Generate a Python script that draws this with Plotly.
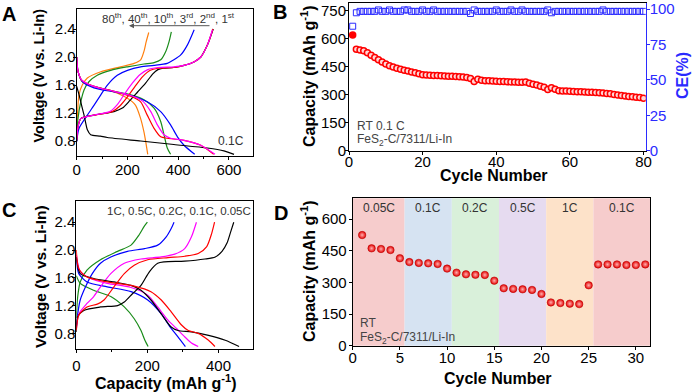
import plotly.graph_objects as go

# ---------------- Panel A data: voltage profiles at 0.1C ----------------
a1_dis_q = [0, 10, 20, 29, 36, 42, 55, 93, 121, 252, 383, 515, 580, 620]
a1_dis_v = [1.58, 1.45, 1.30, 1.17, 1.05, 0.96, 0.89, 0.87, 0.85, 0.80, 0.75, 0.70, 0.66, 0.61]
a1_chg_q = [0, 5, 16, 68, 147, 180, 210, 240, 270, 300, 320, 340, 383, 423, 462, 489, 515, 538]
a1_chg_v = [0.80, 1.00, 1.12, 1.17, 1.22, 1.27, 1.38, 1.50, 1.62, 1.76, 1.82, 1.84, 1.85, 1.88, 1.93, 2.00, 2.17, 2.40]

a2_dis_q = [0, 5, 20, 68, 147, 213, 252, 278, 305, 331, 357, 423, 489, 540]
a2_dis_v = [2.00, 1.80, 1.67, 1.58, 1.51, 1.44, 1.36, 1.17, 0.98, 0.86, 0.84, 0.81, 0.74, 0.61]
a2_chg_q = [0, 5, 16, 68, 140, 170, 200, 230, 260, 290, 320, 383, 423, 462, 489, 515, 537]
a2_chg_v = [0.82, 1.00, 1.12, 1.17, 1.22, 1.30, 1.43, 1.58, 1.72, 1.81, 1.84, 1.85, 1.88, 1.93, 2.00, 2.17, 2.40]

a3_dis_q = [0, 5, 20, 68, 147, 213, 260, 292, 318, 344, 370, 423, 489, 545]
a3_dis_v = [2.00, 1.80, 1.67, 1.58, 1.51, 1.45, 1.37, 1.22, 1.03, 0.89, 0.84, 0.81, 0.74, 0.61]
a3_chg_q = [0, 5, 16, 68, 130, 160, 190, 220, 250, 280, 320, 383, 423, 462, 489, 515, 535]
a3_chg_v = [0.82, 1.00, 1.12, 1.17, 1.22, 1.32, 1.48, 1.63, 1.75, 1.82, 1.85, 1.86, 1.88, 1.93, 2.00, 2.17, 2.39]

a10_dis_q = [0, 5, 22, 68, 147, 213, 278, 331, 370, 397, 423, 465]
a10_dis_v = [2.00, 1.80, 1.65, 1.56, 1.50, 1.45, 1.36, 1.22, 1.03, 0.86, 0.74, 0.61]
a10_chg_q = [0, 9, 42, 68, 95, 121, 160, 200, 252, 305, 357, 383, 410, 436, 463]
a10_chg_v = [0.79, 0.98, 1.17, 1.31, 1.46, 1.60, 1.74, 1.81, 1.86, 1.88, 1.91, 1.96, 2.03, 2.17, 2.39]

a40_dis_q = [0, 5, 22, 68, 147, 213, 265, 305, 331, 344, 357, 370]
a40_dis_v = [2.00, 1.80, 1.65, 1.58, 1.51, 1.46, 1.39, 1.27, 1.08, 0.89, 0.70, 0.61]
a40_chg_q = [0, 5, 16, 29, 49, 81, 134, 200, 265, 305, 331, 351, 364, 373]
a40_chg_v = [0.84, 1.12, 1.36, 1.53, 1.65, 1.74, 1.81, 1.86, 1.90, 1.92, 1.96, 2.08, 2.22, 2.36]

a80_dis_q = [0, 5, 22, 68, 147, 200, 232, 252, 265, 272, 280]
a80_dis_v = [2.00, 1.80, 1.65, 1.58, 1.50, 1.41, 1.31, 1.12, 0.93, 0.79, 0.61]
a80_chg_q = [0, 3, 9, 22, 42, 95, 173, 226, 252, 265, 274, 284]
a80_chg_v = [0.80, 1.17, 1.46, 1.60, 1.70, 1.79, 1.86, 1.91, 1.96, 2.08, 2.22, 2.35]

# ---------------- Panel B data: cycling at 0.1C ----------------
b_cycles = list(range(1, 81))
b_capacity = [621, 544, 541, 537, 525, 512, 500, 488, 476, 465,
              456, 449, 443, 437, 432, 428, 423, 418, 413, 408,
              406, 405, 404, 403, 402, 401, 400, 399, 398, 397,
              396, 393, 388, 372, 383, 378, 376, 375, 374, 373,
              372, 371, 370, 369, 368, 367, 367, 368, 362, 357,
              352, 346, 340, 328, 338, 330, 322, 321, 320, 319,
              318, 317, 316, 315, 314, 313, 312, 311, 309, 307,
              305, 302, 299, 296, 293, 291, 289, 287, 285, 282]
b_ce = [88, 97.5, 98.5, 98.5, 98.5, 98.5, 98.5, 99.5, 98.5, 98.5,
        99.5, 98.5, 98.5, 98.5, 99.5, 99.5, 98.5, 98.5, 98.5, 99.5,
        98.5, 98.5, 99.5, 98.5, 98.5, 98.5, 98.5, 98.5, 98.5, 98.5,
        98.5, 98.5, 97.0, 99.5, 98.5, 98.5, 98.5, 98.5, 98.5, 99.5,
        98.5, 98.5, 98.5, 99.5, 98.5, 98.5, 99.5, 98.5, 98.5, 98.5,
        98.5, 98.5, 98.5, 99.5, 97.5, 98.5, 98.5, 98.5, 98.5, 98.5,
        98.5, 98.5, 98.5, 98.5, 98.5, 98.5, 98.5, 98.5, 99.5, 98.5,
        98.5, 98.5, 98.5, 98.5, 98.5, 98.5, 98.5, 98.5, 98.5, 98.5]

# ---------------- Panel C data: rate voltage profiles ----------------
c005_dis_q = [0, 11, 49, 106, 154, 182, 210, 239, 267, 286, 324, 372, 419, 458]
c005_dis_v = [1.90, 1.66, 1.59, 1.54, 1.49, 1.42, 1.28, 1.08, 0.89, 0.84, 0.82, 0.77, 0.70, 0.61]
c005_chg_q = [0, 4, 21, 68, 116, 135, 158, 182, 206, 229, 248, 305, 362, 391, 410, 424, 433, 443]
c005_chg_v = [0.82, 1.04, 1.13, 1.18, 1.20, 1.25, 1.37, 1.49, 1.69, 1.81, 1.83, 1.84, 1.87, 1.90, 1.98, 2.10, 2.24, 2.40]

c01_dis_q = [0, 7, 30, 87, 163, 210, 239, 267, 296, 315, 343, 372, 390]
c01_dis_v = [2.00, 1.73, 1.61, 1.54, 1.48, 1.40, 1.28, 1.11, 0.92, 0.84, 0.80, 0.70, 0.61]
c01_chg_q = [0, 7, 30, 59, 78, 106, 135, 163, 201, 258, 305, 343, 367, 381, 389]
c01_chg_v = [0.84, 1.06, 1.18, 1.22, 1.28, 1.47, 1.66, 1.78, 1.86, 1.89, 1.91, 1.95, 2.05, 2.24, 2.40]

c02_dis_q = [0, 11, 40, 87, 154, 201, 229, 258, 282, 305, 324, 343]
c02_dis_v = [1.93, 1.69, 1.59, 1.52, 1.46, 1.35, 1.18, 0.99, 0.87, 0.75, 0.66, 0.61]
c02_chg_q = [0, 7, 30, 49, 68, 97, 135, 182, 239, 277, 305, 324, 338]
c02_chg_v = [0.86, 1.08, 1.23, 1.33, 1.47, 1.66, 1.81, 1.87, 1.90, 1.94, 2.02, 2.19, 2.40]

c05_dis_q = [0, 7, 30, 87, 154, 201, 239, 267, 286, 307]
c05_dis_v = [1.88, 1.66, 1.54, 1.47, 1.40, 1.28, 1.08, 0.87, 0.75, 0.61]
c05_chg_q = [0, 4, 11, 26, 45, 68, 97, 144, 192, 229, 253, 267, 275]
c05_chg_v = [0.88, 1.08, 1.28, 1.47, 1.66, 1.81, 1.90, 1.98, 2.02, 2.07, 2.19, 2.31, 2.40]

c1_dis_q = [0, 11, 49, 97, 135, 163, 182, 193, 202]
c1_dis_v = [1.63, 1.52, 1.42, 1.33, 1.18, 1.01, 0.84, 0.70, 0.61]
c1_chg_q = [0, 4, 11, 30, 68, 116, 154, 177, 191, 200]
c1_chg_v = [1.02, 1.33, 1.54, 1.71, 1.86, 1.98, 2.07, 2.22, 2.34, 2.40]

# ---------------- Panel D data: rate capability ----------------
d_cycles = list(range(1, 32))
d_capacity = [524, 461, 458, 453, 414, 396, 392, 390, 387, 365,
              346, 338, 336, 335, 308, 272, 269, 267, 264, 245,
              205, 202, 199, 197, 286, 385, 385, 385, 382, 382, 385]
d_band_labels = ["0.05C", "0.1C", "0.2C", "0.5C", "1C", "0.1C"]
d_band_edges = [0, 5.5, 10.5, 15.5, 20.5, 25.5, 31.5]
d_band_colors = ["#f6cccc", "#d6e3f2", "#d9f0da", "#e6dbf0", "#fde2c9", "#f6cccc"]

a_labels_text = "80<sup>th</sup>, 40<sup>th</sup>, 10<sup>th</sup>, 3<sup>rd</sup>, 2<sup>nd</sup>, 1<sup>st</sup>"
c_labels_text = "1C, 0.5C, 0.2C, 0.1C, 0.05C"

W, H = 692, 392
FONT = "Liberation Sans, Arial, sans-serif"


def px(x):
    return x / W


def py(y):
    return 1 - y / H


fig = go.Figure()

BLACK, RED, MAG, BLUE, GREEN, ORANGE = "#000000", "#ff0000", "#ff00ff", "#0000ff", "#1a8c1a", "#ff7f0e"
LW = 1.2


def curve(q, v, color, xa, ya):
    fig.add_trace(go.Scatter(x=q, y=v, mode="lines", xaxis=xa, yaxis=ya,
                             line=dict(color=color, width=LW, shape="spline", smoothing=0.7),
                             hoverinfo="skip", showlegend=False))


for q, v, c in [(a80_dis_q, a80_dis_v, ORANGE), (a80_chg_q, a80_chg_v, ORANGE),
                (a40_dis_q, a40_dis_v, GREEN), (a40_chg_q, a40_chg_v, GREEN),
                (a10_dis_q, a10_dis_v, BLUE), (a10_chg_q, a10_chg_v, BLUE),
                (a1_dis_q, a1_dis_v, BLACK), (a1_chg_q, a1_chg_v, BLACK),
                (a2_dis_q, a2_dis_v, RED), (a2_chg_q, a2_chg_v, RED),
                (a3_dis_q, a3_dis_v, MAG), (a3_chg_q, a3_chg_v, MAG)]:
    curve(q, v, c, "x", "y")

for q, v, c in [(c1_dis_q, c1_dis_v, GREEN), (c1_chg_q, c1_chg_v, GREEN),
                (c05_dis_q, c05_dis_v, BLUE), (c05_chg_q, c05_chg_v, BLUE),
                (c02_dis_q, c02_dis_v, MAG), (c02_chg_q, c02_chg_v, MAG),
                (c005_dis_q, c005_dis_v, BLACK), (c005_chg_q, c005_chg_v, BLACK),
                (c01_dis_q, c01_dis_v, RED), (c01_chg_q, c01_chg_v, RED)]:
    curve(q, v, c, "x3", "y3")

# Panel B
fig.add_trace(go.Scatter(x=b_cycles, y=b_ce, mode="markers", xaxis="x2", yaxis="y5",
                         marker=dict(symbol="square-open", size=6, color="#2b2bff", line=dict(width=1)),
                         hoverinfo="skip", showlegend=False))
fill_colors = ["#ff0000"] + ["#ffd6d6"] * (len(b_cycles) - 1)
fig.add_trace(go.Scatter(x=b_cycles, y=b_capacity, mode="markers", xaxis="x2", yaxis="y2",
                         marker=dict(symbol="circle", size=6, color=fill_colors,
                                     line=dict(width=1.5, color="#ff0000")),
                         hoverinfo="skip", showlegend=False))

# Panel D
fig.add_trace(go.Scatter(x=d_cycles, y=d_capacity, mode="markers", xaxis="x4", yaxis="y4",
                         marker=dict(symbol="circle", size=7.5, color="#e60000",
                                     line=dict(width=0.5, color="#b00000"),
                                     gradient=dict(type="radial", color="#ffb0b0")),
                         hoverinfo="skip", showlegend=False))

shapes = []
for i in range(len(d_band_labels)):
    shapes.append(dict(type="rect", xref="x4", yref="y4 domain",
                       x0=d_band_edges[i], x1=d_band_edges[i + 1], y0=0, y1=1,
                       fillcolor=d_band_colors[i], line=dict(width=0), layer="below"))

tickfont = dict(family=FONT, size=15, color="black")
common = dict(showline=True, linecolor="black", linewidth=1, mirror=True, ticks="outside",
              ticklen=3, tickwidth=1, tickcolor="black", showgrid=False, zeroline=False,
              tickfont=tickfont)
minor_x = dict(ticks="outside", ticklen=2, dtick=100, tickcolor="black")

fig.update_layout(
    width=W, height=H, margin=dict(l=0, r=0, t=0, b=0, autoexpand=False),
    paper_bgcolor="white", plot_bgcolor="rgba(0,0,0,0)", showlegend=False,
    xaxis=dict(common, domain=[px(76.7), px(253.3)], anchor="y", range=[0, 696],
               tick0=0, dtick=200, minor=minor_x, ticklabelstandoff=-3),
    yaxis=dict(common, domain=[py(156), py(9)], anchor="x", range=[0.586, 2.686],
               tick0=0.8, dtick=0.4, tickformat=".1f", ticklabelstandoff=-6),
    xaxis2=dict(common, domain=[px(349), px(645.7)], anchor="y2", range=[0, 80.6],
                tick0=0, dtick=20, ticklabelstandoff=-6),
    yaxis2=dict(common, domain=[py(150.7), py(3.3)], anchor="x2", range=[0, 791],
                tick0=0, dtick=150, mirror=False, ticklabelstandoff=-4),
    yaxis5=dict(common, overlaying="y2", anchor="x2", side="right", range=[0, 104.2],
                tick0=0, dtick=25, mirror=False, linecolor="#2b2bff", tickcolor="#2b2bff",
                tickfont=dict(family=FONT, size=15, color="#2b2bff"), ticklabelstandoff=-3),
    xaxis3=dict(common, domain=[px(76.3), px(253.3)], anchor="y3", range=[0, 498],
                tick0=0, dtick=200, minor=minor_x, ticklabelstandoff=0),
    yaxis3=dict(common, domain=[py(349.3), py(200.7)], anchor="x3", range=[0.57, 2.71],
                tick0=0.8, dtick=0.4, tickformat=".1f", ticklabelstandoff=-6),
    xaxis4=dict(common, domain=[px(352.7), px(650)], anchor="y4", range=[0, 31.5],
                tick0=0, dtick=5, ticklabelstandoff=-5),
    yaxis4=dict(common, domain=[py(345.7), py(198.3)], anchor="x4", range=[0, 698],
                tick0=0, dtick=150, ticklabelstandoff=-1),
    shapes=shapes,
)

ann = []


def text(x, y, s, size=12, color="#333333", bold=False, xanchor="center", yanchor="middle", angle=0):
    if bold:
        s = "<b>" + s + "</b>"
    ann.append(dict(x=px(x), y=py(y), xref="paper", yref="paper", text=s, showarrow=False,
                    xanchor=xanchor, yanchor=yanchor, textangle=angle,
                    font=dict(family=FONT, size=size, color=color)))


text(9, 14, "A", 20, "black", True)
text(280, 12, "B", 20, "black", True)
text(9, 210, "C", 20, "black", True)
text(281, 213, "D", 20, "black", True)

text(38.5, 76, "Voltage (V vs. Li-In)", 14.5, "black", True, angle=-90)
text(40, 277, "Voltage (V vs. Li-In)", 15.5, "black", True, angle=-90)
text(308, 76, "Capacity (mAh g<sup>-1</sup>)", 16, "black", True, angle=-90)
text(308, 271, "Capacity (mAh g<sup>-1</sup>)", 16, "black", True, angle=-90)
text(682, 76, "CE(%)", 16, "#2b2bff", True, angle=-90)
text(494, 175, "Cycle Number", 16, "black", True)
text(498, 378, "Cycle Number", 16, "black", True)
text(166, 382, "Capacity (mAh g<sup>-1</sup>)", 16, "black", True)

text(168, 18, a_labels_text, 11.5, "#333333")
text(231, 140.5, "0.1C", 12, "#333333")
text(179, 211, c_labels_text, 11.5, "#333333")
text(355, 126, "RT 0.1 C", 12, "#444444", xanchor="left")
text(355, 140, "FeS<sub>2</sub>-C/7311/Li-In", 12, "#444444", xanchor="left")
text(358, 322.5, "RT", 12, "#444444", xanchor="left")
text(358, 338, "FeS<sub>2</sub>-C/7311/Li-In", 12, "#444444", xanchor="left")

for i, lab in enumerate(d_band_labels):
    ann.append(dict(x=(d_band_edges[i] + d_band_edges[i + 1]) / 2, y=py(208), xref="x4", yref="paper",
                    text=lab, showarrow=False, xanchor="center", yanchor="middle",
                    font=dict(family=FONT, size=12, color="#333333")))

ann.append(dict(x=px(129), y=py(25.7), xref="paper", yref="paper", ax=82, ay=0,
                showarrow=True, arrowhead=2, arrowsize=1, arrowwidth=1, arrowcolor="#555555", text=""))

fig.update_layout(annotations=ann)
fig.write_html("out.html", config={"displayModeBar": False},
               post_script="document.body.style.margin='0';document.body.style.padding='0';")
